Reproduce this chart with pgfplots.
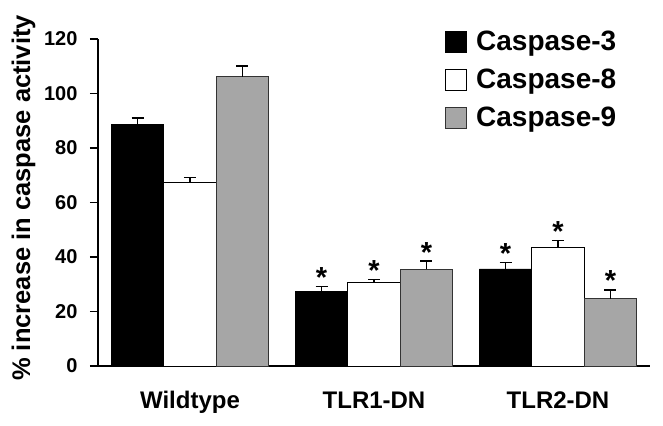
\documentclass[border=0pt]{standalone}
\usepackage{pgfplots}
\usepackage{pgfplotstable}
\pgfplotsset{compat=1.18}
\usepackage{fontspec}
\setmainfont{Liberation Sans}
\definecolor{cgrey}{RGB}{166,166,166}

\pgfplotstableread{
x y e
0 88.7 2.3
1 27.4 1.8
2 35.6 2.3
}\casthree
\pgfplotstableread{
x y e
0 67.3 1.8
1 30.8 0.9
2 43.4 2.7
}\caseight
\pgfplotstableread{
x y e
0 106.1 4.0
1 35.5 3.0
2 24.7 3.2
}\casnine

\begin{document}
\begin{tikzpicture}
\begin{axis}[
  scale only axis, width=552bp, height=327bp,
  xmin=-0.5, xmax=2.5, ymin=0, ymax=120,
  axis x line=bottom, axis y line=left,
  axis line style={line width=1.6bp, -},
  ytick={0,20,...,120},
  xtick={0,1,2}, xticklabels={Wildtype,TLR1-DN,TLR2-DN},
  major x tick style={draw=none},
  extra x ticks={-0.5,0.5,1.5,2.5}, extra x tick labels={},
  extra x tick style={major tick length=7bp, tick style={line width=1.6bp, black}},
  tick align=outside, major tick length=8bp,
  ytick style={line width=1.6bp, black},
  /pgf/number format/assume math mode=true,
  y tick label style={font=\fontsize{20bp}{24bp}\selectfont\bfseries, xshift=-9bp},
  x tick label style={font=\fontsize{24bp}{28bp}\selectfont\bfseries, yshift=-14bp},
  ylabel={\% increase in caspase activity},
  ylabel style={font=\fontsize{25.5bp}{30bp}\selectfont\bfseries, at={(axis description cs:-0.135,0.514)}, anchor=center},
  legend style={at={(rel axis cs:0.629,1.03)}, anchor=north west, draw=none, fill=none,
    font=\fontsize{28bp}{32bp}\selectfont\bfseries, row sep=13bp, inner sep=0pt,
    /tikz/every odd column/.append style={column sep=7bp}},
  legend image code/.code={\draw[#1] (0bp,-10.5bp) rectangle (21bp,10.5bp);},
  clip=false,
]
\addplot[ybar, bar width=0.285, bar shift=0, fill=black, draw=black, line width=0.8bp,
  error bars/.cd, y dir=plus, y explicit,
  error bar style={line width=1.3bp, black},
  error mark options={rotate=90, mark size=6bp, line width=1.3bp, black}]
  table[x expr=\thisrow{x}-0.285, y=y, y error=e]{\casthree};
\addlegendentry{Caspase-3}
\addplot[ybar, bar width=0.285, bar shift=0, fill=white, draw=black, line width=0.8bp,
  error bars/.cd, y dir=plus, y explicit,
  error bar style={line width=1.3bp, black},
  error mark options={rotate=90, mark size=6bp, line width=1.3bp, black}]
  table[x=x, y=y, y error=e]{\caseight};
\addlegendentry{Caspase-8}
\addplot[ybar, bar width=0.285, bar shift=0, fill=cgrey, draw=black!80, line width=0.8bp,
  error bars/.cd, y dir=plus, y explicit,
  error bar style={line width=1.3bp, black},
  error mark options={rotate=90, mark size=6bp, line width=1.3bp, black}]
  table[x expr=\thisrow{x}+0.285, y=y, y error=e]{\casnine};
\addlegendentry{Caspase-9}
% significance asterisks above the error bars
\addplot[draw=none, mark=none, forget plot,
  nodes near coords={*},
  every node near coord/.style={font=\fontsize{29bp}{32bp}\selectfont\bfseries, anchor=base, yshift=-1bp, inner sep=0pt}]
  coordinates {(0.715,29.2) (1,31.7) (1.285,38.5) (1.715,37.9) (2,46.1) (2.285,27.9)};
\path (rel axis cs:0,0) ++(-98bp,-60bp) coordinate (bbsw);
\path (rel axis cs:0,0) ++(565bp,366bp) coordinate (bbne);
\end{axis}
\path (bbsw) rectangle (bbne);
\end{tikzpicture}
\end{document}
